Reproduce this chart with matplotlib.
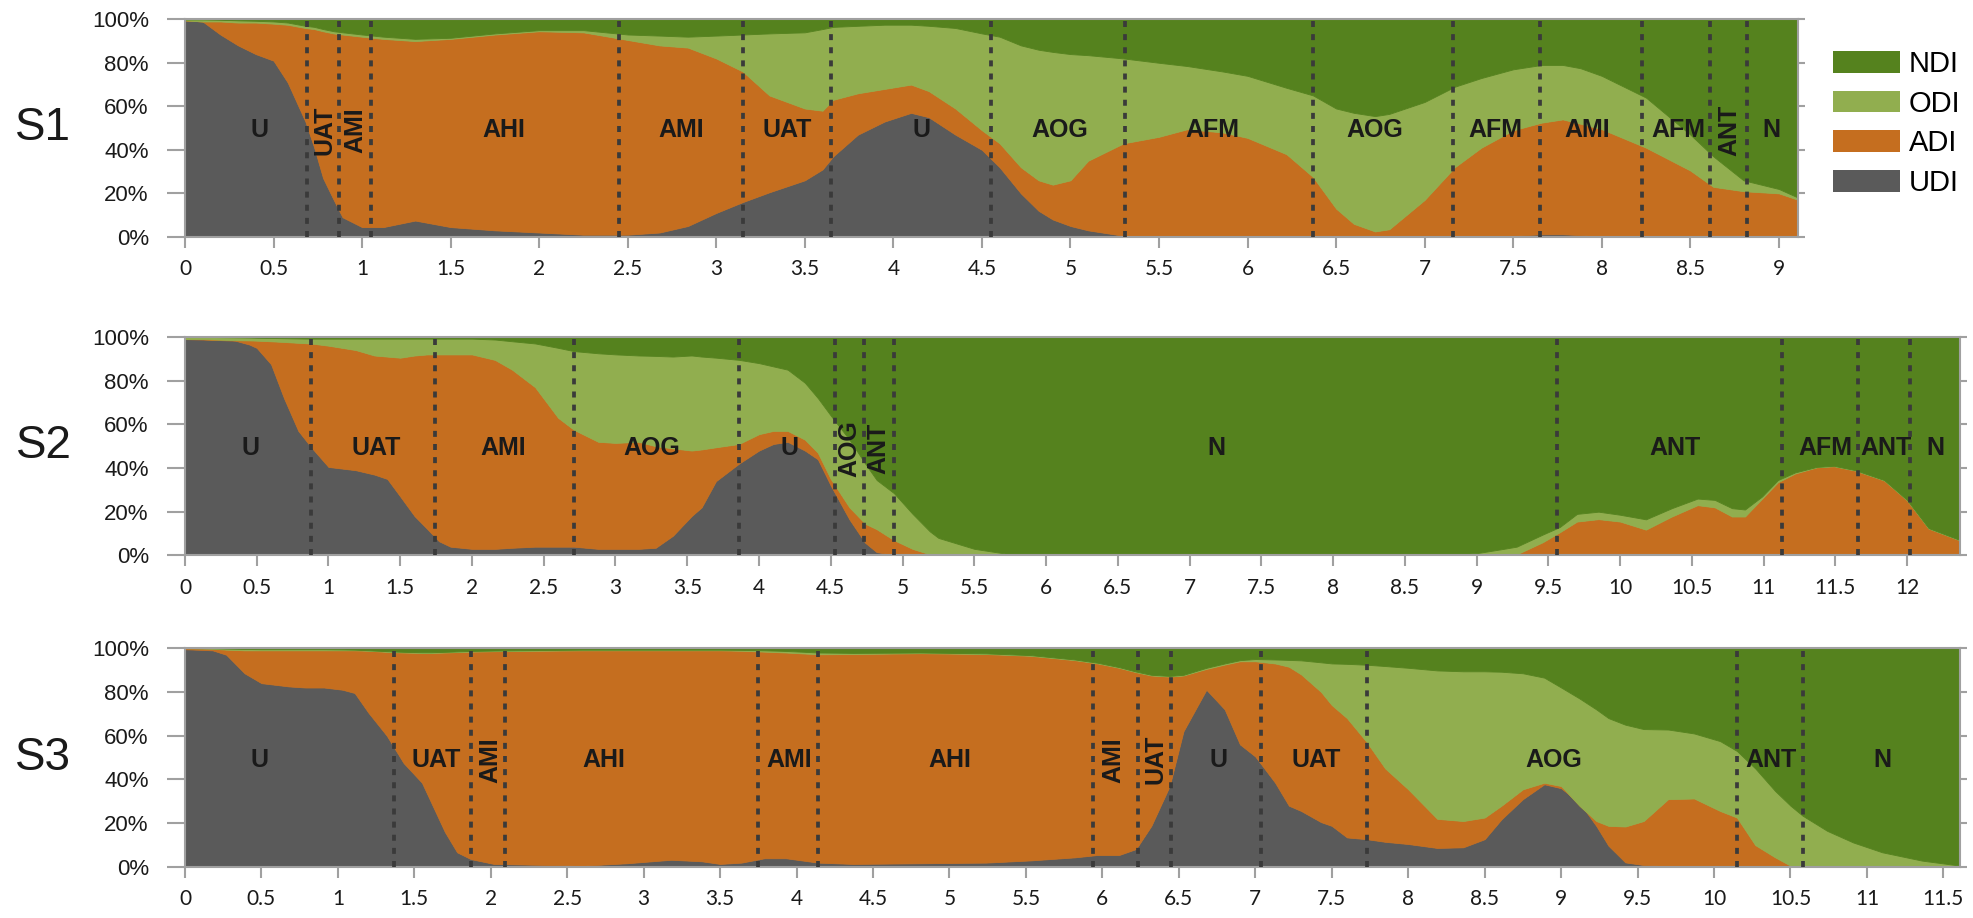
import numpy as np
import matplotlib
matplotlib.use("Agg")
import matplotlib.pyplot as plt
from matplotlib.patches import Patch
from matplotlib.ticker import MultipleLocator, FormatStrFormatter

SERIES = ["UDI", "ADI", "ODI", "NDI"]
COLORS = ["#5a5a5a", "#c56e1f", "#91ae4f", "#55821e"]

# ---- S1: cumulative upper edges (%) of UDI, UDI+ADI, UDI+ADI+ODI
s1_x = [0, 0.1, 0.2, 0.3, 0.4, 0.5, 0.58, 0.68, 0.73, 0.78, 0.84, 0.89, 1.0, 1.12, 1.3,
        1.5, 1.75, 2.0, 2.25, 2.5, 2.68, 2.84, 3.0, 3.15, 3.3, 3.5, 3.6, 3.66, 3.8, 3.95,
        4.1, 4.2, 4.35, 4.5, 4.6, 4.72, 4.82, 4.9, 5.0, 5.1, 5.3, 5.5, 5.66, 5.86, 6.0,
        6.22, 6.37, 6.5, 6.6, 6.72, 6.8, 7.0, 7.17, 7.32, 7.5, 7.66, 7.78, 7.88, 8.0, 8.25,
        8.5, 8.63, 8.8, 9.0, 9.11]
s1_udi = [99.5, 99, 93, 88, 84, 81, 71, 53, 41, 27, 17, 9, 4.5, 4.5, 7.5,
          4.5, 3, 2, 1, 1, 2, 5, 11, 16, 20.5, 26, 31, 37, 47, 53,
          57, 55, 47, 40, 32, 20, 12, 8, 5, 3, 0.5, 0.3, 0.3, 0.3, 0.3,
          0.3, 0.3, 0.3, 0.3, 0.3, 0.3, 0.3, 0.3, 0.3, 0.5, 1.2, 1.2, 0.8, 0.3, 0.3,
          0.3, 0.3, 0.3, 0.3, 0.3]
s1_adi = [99.5, 99, 99, 98.5, 98.5, 98, 97.5, 96, 95.5, 94.5, 93.5, 93, 92, 91, 90,
          91, 93, 94.5, 94, 90.5, 88, 87, 82, 76, 65, 59, 58, 63, 66, 68,
          70, 67, 59, 49, 43, 32, 26, 24, 26, 35, 43, 46, 49.5, 48, 45.5,
          38, 27.5, 13, 6, 2.5, 3.5, 17, 32, 41, 49, 52.5, 54, 52, 49.5, 41,
          30.5, 23, 21, 20, 17]
s1_odi = [100, 100, 99.8, 99.5, 99.3, 99, 98.5, 97, 96.5, 95.5, 94.5, 94, 93, 92, 91,
          91.5, 93.5, 95, 95, 93, 92.5, 92, 92.5, 93, 93.5, 94, 95.5, 96.5, 97, 97.5,
          97.5, 97, 96, 93.5, 92, 88, 86, 85, 84, 83.5, 82, 80, 78.5, 76, 74,
          68.5, 65, 59, 57, 55.5, 56.5, 62, 69, 73, 77, 79, 79, 77.5, 74, 64,
          47, 37, 26, 22, 18]
s1_bounds = [0.69, 0.87, 1.05, 2.45, 3.15, 3.65, 4.55, 5.31, 6.37, 7.16, 7.65, 8.23, 8.61, 8.82]
s1_labels = ["U", "UAT", "AMI", "AHI", "AMI", "UAT", "U", "AOG", "AFM", "AOG", "AFM",
             "AMI", "AFM", "ANT", "N"]
s1_label_x = [0.42, 0.79, 0.96, 1.8, 2.8, 3.4, 4.16, 4.94, 5.8, 6.72, 7.4, 7.92, 8.43, 8.72, 8.96]
s1_vertical_idx = [1, 2, 13]

# ---- S2
s2_x = [0, 0.13, 0.35, 0.45, 0.5, 0.6, 0.69, 0.79, 0.88, 1.0, 1.19, 1.32, 1.41, 1.5, 1.6,
        1.69, 1.77, 1.85, 2.0, 2.16, 2.28, 2.44, 2.6, 2.71, 2.88, 3.0, 3.16, 3.28, 3.4, 3.53,
        3.6, 3.7, 3.86, 4.0, 4.1, 4.2, 4.32, 4.41, 4.5, 4.63, 4.74, 4.82, 4.94, 5.07, 5.19,
        5.25, 5.5, 5.75, 5.85, 8.8, 9.0, 9.19, 9.28, 9.46, 9.58, 9.7, 9.85, 10.0, 10.18, 10.36,
        10.54, 10.66, 10.78, 10.87, 10.99, 11.1, 11.22, 11.37, 11.49, 11.64, 11.84, 12.0, 12.15,
        12.27, 12.37]
s2_udi = [99, 98.8, 98.3, 96.5, 95, 87.5, 72, 57, 49.5, 40.5, 39, 37, 35, 27, 18,
          12, 6.5, 4, 3, 3, 3.5, 4, 4, 4, 3, 3, 3, 3.5, 9, 18,
          22, 34, 42, 48, 51, 52, 48, 44, 32, 16.5, 5.8, 1.5, 0.3, 0, 0,
          0, 0, 0, 0, 0, 0, 0, 0, 0, 0, 0, 0, 0, 0, 0,
          0, 0, 0, 0, 0, 0, 0, 0, 0, 0, 0, 0, 0,
          0, 0]
s2_adi = [99, 99, 98.5, 98.4, 98.3, 98, 97.7, 97.3, 97, 96, 94, 91.5, 91, 90.5, 91.5,
          92, 92, 92, 92, 89.5, 85, 77, 63, 57.5, 52, 51.5, 52, 50, 49, 48,
          48.5, 49.5, 51, 55.5, 57, 57, 53, 47, 35, 22, 14.5, 12, 7, 3, 0.5,
          0, 0, 0, 0, 0, 0, 0, 0.5, 6, 10.6, 15.5, 16.6, 15.5, 11.8, 17.8,
          23, 22, 17.8, 17.8, 26, 33.5, 37.5, 40.3, 40.8, 38.8, 34.3, 25.2, 12.3,
          9.3, 6.8]
s2_odi = [100, 100, 99.8, 99.7, 99.6, 99.5, 99.4, 99.3, 99.2, 99.2, 99.2, 99.2, 99.2, 99.2, 99.2,
          99.2, 99.2, 99.2, 99.2, 98.8, 98, 97, 95, 93.5, 92.5, 92, 91.5, 91.3, 91, 91.5,
          91, 90.5, 89.5, 88, 86.5, 85, 79, 72, 64, 53, 42, 34.5, 28.5, 19, 11,
          8, 3, 0.5, 0, 0.5, 1, 3, 4, 9.5, 13, 19, 20, 18.6, 16.5, 21.6,
          26, 25.4, 21.6, 21, 27, 34.5, 38, 40.5, 41, 39, 34.5, 25.4, 12.5,
          9.5, 7]
s2_bounds = [0.88, 1.74, 2.71, 3.86, 4.53, 4.73, 4.94, 9.56, 11.13, 11.66, 12.02]
s2_labels = ["U", "UAT", "AMI", "AOG", "U", "AOG", "ANT", "N", "ANT", "AFM", "ANT", "N"]
s2_label_x = [0.46, 1.33, 2.22, 3.25, 4.21, 4.63, 4.83, 7.19, 10.38, 11.43, 11.85, 12.2]
s2_vertical_idx = [5, 6]

# ---- S3
s3_x = [0, 0.18, 0.27, 0.39, 0.5, 0.68, 0.79, 0.91, 1.03, 1.11, 1.2, 1.32, 1.43, 1.55, 1.61,
        1.7, 1.78, 1.87, 2.02, 2.31, 2.6, 2.89, 3.18, 3.38, 3.5, 3.64, 3.79, 3.93, 4.14, 4.37,
        4.81, 5.24, 5.53, 5.82, 5.97, 6.11, 6.22, 6.32, 6.44, 6.53, 6.68, 6.8, 6.9, 7.0, 7.13,
        7.22, 7.3, 7.43, 7.5, 7.6, 7.73, 7.85, 8.0, 8.19, 8.36, 8.5, 8.61, 8.75, 8.89, 9.0,
        9.12, 9.23, 9.31, 9.42, 9.54, 9.7, 9.87, 10.04, 10.15, 10.27, 10.4, 10.5, 10.58, 10.74,
        10.91, 11.1, 11.36, 11.61]
s3_udi = [99.5, 99, 97, 88.5, 84, 82.5, 82, 82, 81, 79.5, 70.5, 60, 47.5, 38.5, 29.5,
          16, 6.7, 3.6, 1.4, 1, 0.6, 1.7, 3.3, 2.6, 1.4, 2, 4, 4, 2, 1.4,
          1.7, 2, 3, 4.4, 5.5, 5.5, 8.2, 18.8, 37, 62, 81, 72, 56, 50.5, 38.5,
          28, 25.6, 20.5, 18.8, 13.5, 12.7, 11.5, 10.5, 8.7, 9, 12.7, 21.8, 31, 37.8, 36,
          29.4, 18.8, 9.7, 2.1, 0.9, 0.5, 0.3, 0.2, 0, 0, 0, 0, 0, 0,
          0, 0, 0, 0]
s3_adi = [100, 99.7, 99.3, 99, 99, 99, 99, 99, 99, 99, 98.8, 98.3, 98, 97.8, 97.8,
          98, 98.2, 98.4, 98.6, 98.8, 99, 99, 99, 99, 99, 98.8, 98.4, 98, 97.2, 97.3,
          97.7, 97.3, 96.5, 94.5, 93, 91, 89, 87.5, 87, 87.5, 90.5, 92.5, 94, 94, 93,
          91.5, 88, 80, 74, 68, 57, 45, 35.5, 22, 21, 22.6, 28, 35.5, 38.5, 37,
          28, 21, 18.8, 18.5, 21, 31, 31.3, 25.6, 22.6, 10, 4.4, 0.6, 0, 0,
          0, 0, 0, 0]
s3_odi = [100, 100, 99.8, 99.6, 99.5, 99.5, 99.5, 99.5, 99.4, 99.3, 99, 98.6, 98.3, 98.1, 98.1,
          98.3, 98.5, 98.7, 98.9, 99.1, 99.3, 99.3, 99.3, 99.3, 99.3, 99.2, 99, 98.7, 98, 97.8,
          98, 97.6, 96.8, 94.8, 93.3, 91.3, 89.3, 87.8, 87.3, 87.8, 91, 93, 94.5, 95, 94.8,
          94.6, 94.4, 93.5, 93, 92.8, 92.4, 91.8, 91, 89.8, 89.4, 89.4, 89.2, 88.5, 86.5, 82,
          77, 72, 68, 65, 63, 62.8, 61, 57.5, 53, 45, 34.7, 28, 23.4, 16.5,
          11.2, 6.7, 2.9, 0.6]
s3_bounds = [1.37, 1.87, 2.09, 3.75, 4.14, 5.94, 6.23, 6.45, 7.04, 7.73, 10.15, 10.58]
s3_labels = ["U", "UAT", "AMI", "AHI", "AMI", "AHI", "AMI", "UAT", "U", "UAT", "AOG", "ANT", "N"]
s3_label_x = [0.49, 1.64, 2.0, 2.74, 3.95, 5.0, 6.07, 6.35, 6.76, 7.4, 8.95, 10.37, 11.1]
s3_vertical_idx = [2, 6, 7]

panels = [
    ("S1", s1_x, s1_udi, s1_adi, s1_odi, s1_bounds, s1_labels, s1_label_x, s1_vertical_idx, 9.11,
     [0.0937, 0.742, 0.8173, 0.237]),
    ("S2", s2_x, s2_udi, s2_adi, s2_odi, s2_bounds, s2_labels, s2_label_x, s2_vertical_idx, 12.37,
     [0.0937, 0.395, 0.8993, 0.238]),
    ("S3", s3_x, s3_udi, s3_adi, s3_odi, s3_bounds, s3_labels, s3_label_x, s3_vertical_idx, 11.61,
     [0.0937, 0.0556, 0.8993, 0.2384]),
]

fig = plt.figure(figsize=(19.74, 9.18), dpi=100)
axis_grey = "#a0a0a0"
txt = "#1a1a1a"

for name, x, udi, adi, odi, bounds, labels, label_x, vert_idx, xmax, rect in panels:
    ax = fig.add_axes(rect)
    x = np.asarray(x)
    # stack the layers from the read-off cumulative edges
    tops = np.vstack([np.zeros_like(x), udi, adi, odi, np.full_like(x, 100.0)])
    shares = np.diff(tops, axis=0)
    ax.stackplot(x, shares, colors=COLORS, edgecolor="face", linewidth=0.6)

    for b in bounds:
        ax.axvline(b, color="#3a3a3a", lw=2.7, ls=(0, (1.6, 1.9)), zorder=3)

    for i, (lab, lx) in enumerate(zip(labels, label_x)):
        ax.text(lx, 49, lab, rotation=90 if i in vert_idx else 0,
                ha="center", va="center", fontsize=18, fontweight="bold",
                family="Liberation Sans", color=txt, zorder=4)

    ax.set_xlim(0, xmax)
    ax.set_ylim(0, 100)
    ax.xaxis.set_major_locator(MultipleLocator(0.5))
    ax.xaxis.set_major_formatter(FormatStrFormatter("%g"))
    ax.set_yticks([0, 20, 40, 60, 80, 100])
    ax.set_yticklabels([f"{v}%" for v in [0, 20, 40, 60, 80, 100]])
    for sp in ax.spines.values():
        sp.set_color(axis_grey)
        sp.set_linewidth(1.5)
    ax.tick_params(axis="y", left=True, right=True, direction="out",
                   length=13, width=1.5, color=axis_grey, pad=13,
                   labelsize=16, labelcolor=txt, labelfontfamily="Liberation Sans")
    ax.tick_params(axis="x", direction="out", length=8, width=1.5, color=axis_grey, pad=8,
                   labelsize=15, labelcolor=txt, labelfontfamily="Lato")
    # shorter ticks on the right-hand spine
    for t in ax.yaxis.get_major_ticks():
        t.tick2line.set_markersize(5)

    pos = ax.get_position()
    fig.text(0.022, (pos.y0 + pos.y1) / 2, name, ha="center", va="center",
             fontsize=33, family="Liberation Sans", color=txt)

handles = [Patch(facecolor=c, edgecolor="none") for c in COLORS[::-1]]
fig.legend(handles, SERIES[::-1], loc="upper left", bbox_to_anchor=(0.9286, 0.9455),
           frameon=False, borderpad=0, borderaxespad=0, handlelength=2.3, handleheight=0.76,
           labelspacing=0.4, handletextpad=0.3,
           prop={"family": "Liberation Sans", "size": 21})

fig.savefig("out.png", dpi=100)
